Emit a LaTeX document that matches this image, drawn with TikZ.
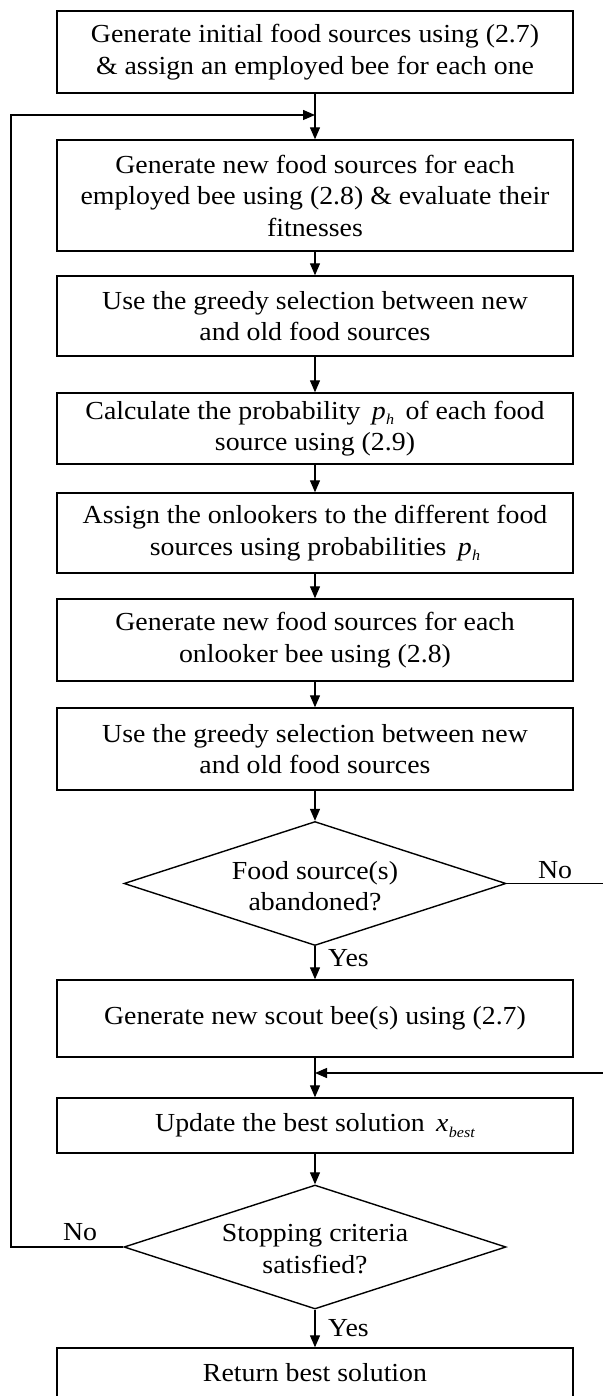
\documentclass[tikz,border=0pt]{standalone}
\usepackage{fontspec}
\setmainfont{Liberation Serif}[FakeStretch=1.07]
\usetikzlibrary{arrows.meta,shapes.geometric}
\newcommand\fs{\fontsize{26}{31.5}\selectfont}
\newcommand\ital[2]{\textit{#1}\kern0.5pt\raisebox{-0.45ex}{\fontsize{15}{15}\selectfont\itshape #2}}
\begin{document}
\begin{tikzpicture}[x=1pt,y=-1pt,
  box/.style={draw, line width=1.4pt, minimum width=516pt, inner sep=0pt, align=center, font=\fs},
  dec/.style={draw, diamond, line width=1.4pt, minimum width=382pt, minimum height=124pt, inner sep=0pt},
  lbl/.style={align=center, font=\fs, inner sep=0pt},
  arr/.style={line width=1.3pt, -{Triangle[length=12pt,width=10pt]}}]
\useasboundingbox (0,0) rectangle (602,1396);
\node[box, minimum height=82pt] (b1) at (315,52) {Generate initial food sources using (2.7)\\ \& assign an employed bee for each one};
\node[box, minimum height=111pt] (b2) at (315,195.5) {Generate new food sources for each\\ employed bee using (2.8) \& evaluate their\\ fitnesses};
\node[box, minimum height=80pt] (b3) at (315,316) {Use the greedy selection between new\\ and old food sources};
\node[box, minimum height=71pt] (b4) at (315,428.5) {Calculate the probability\ \,\ital{p}{h}\,\ of each food\\ source using (2.9)};
\node[box, minimum height=80pt] (b5) at (315,533) {Assign the onlookers to the different food\\ sources using probabilities\ \,\ital{p}{h}};
\node[box, minimum height=82pt] (b6) at (315,640) {Generate new food sources for each\\ onlooker bee using (2.8)};
\node[box, minimum height=82pt] (b7) at (315,749) {Use the greedy selection between new\\ and old food sources};
\node[dec] (d1) at (315,883.5) {};
\node[lbl] (t1) at (315,886) {Food source(s)\\ abandoned?};
\node[box, minimum height=77pt] (b8) at (315,1018.5) {Generate new scout bee(s) using (2.7)};
\node[box, minimum height=55pt] (b9) at (315,1125.5) {Update the best solution\ \,\ital{x}{best}};
\node[dec] (d2) at (315,1247) {};
\node[lbl] (t2) at (315,1249) {Stopping criteria\\ satisfied?};
\node[box, minimum height=50pt] (b10) at (315,1373) {Return best solution};
\coordinate (j1) at (315,115);
\coordinate (j2) at (315,1073);
\coordinate (lx) at (11,0);
\coordinate (rx) at (606,0);
\draw[arr] (b1.south) -- (b2.north);
\draw[arr] (b2.south) -- (b3.north);
\draw[arr] (b3.south) -- (b4.north);
\draw[arr] (b4.south) -- (b5.north);
\draw[arr] (b5.south) -- (b6.north);
\draw[arr] (b6.south) -- (b7.north);
\draw[arr] (b7.south) -- (d1.north);
\draw[arr] (d1.south) -- (b8.north);
\draw[arr] (b8.south) -- (b9.north);
\draw[arr] (b9.south) -- (d2.north);
\draw[arr] (d2.south) -- (b10.north);
\draw[arr] (d2.west) -- (d2.west -| lx) |- (j1);
\draw[arr] (d1.east) -- (d1.east -| rx) |- (j2);
\node[lbl] (no1) at (555,870) {No};
\node[lbl, anchor=west] (y1) at (328,958) {Yes};
\node[lbl] (no2) at (80,1232) {No};
\node[lbl, anchor=west] (y2) at (328,1328) {Yes};
\end{tikzpicture}
\end{document}
